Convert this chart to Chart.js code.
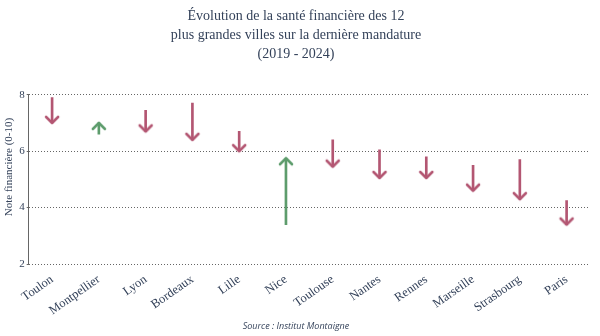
<!DOCTYPE html>
<html>
<head>
<meta charset="utf-8">
<script src="https://cdn.jsdelivr.net/npm/chart.js@4.4.1/dist/chart.umd.min.js"></script>
<style>
  body { margin: 0; background: #fff; }
  #wrap { width: 600px; height: 336px; }
</style>
</head>
<body>
<div id="wrap"><canvas id="arrowChart"></canvas></div>
<script>
// data: note at start (2019) and end (2024) of mandate
const cities = ['Toulon', 'Montpellier', 'Lyon', 'Bordeaux', 'Lille', 'Nice',
    'Toulouse', 'Nantes', 'Rennes', 'Marseille', 'Strasbourg', 'Paris'];
const note2019 = [7.9, 6.6, 7.45, 7.7, 6.7, 3.4, 6.4, 6.05, 5.8, 5.5, 5.7, 4.25];
const note2024 = [7.0, 7.0, 6.7, 6.4, 6.0, 5.75, 5.45, 5.05, 5.05, 4.6, 4.3, 3.4];
const yTicks = [2, 4, 6, 8];

const RED = '#b35672';
const GREEN = '#5d9c6c';
const TEXT = '#34425a';
const SERIF = 'Liberation Serif';

// arrow head drawn as a little canvas, tip at centre
function makeHead(color, up) {
    const c = document.createElement('canvas');
    c.width = 18; c.height = 18;
    const g = c.getContext('2d');
    g.strokeStyle = color;
    g.lineWidth = 2.6;
    g.lineCap = 'round';
    g.lineJoin = 'round';
    g.beginPath();
    if (up) {
        g.moveTo(3, 15); g.lineTo(9, 9); g.lineTo(15, 15);
    } else {
        g.moveTo(3, 3); g.lineTo(9, 9); g.lineTo(15, 3);
    }
    g.stroke();
    return c;
}
const headDown = makeHead(RED, false);
const headUp = makeHead(GREEN, true);

const isUp = note2024.map((v, i) => v > note2019[i]);
const colors = isUp.map(u => u ? GREEN : RED);

const ctx = document.getElementById('arrowChart').getContext('2d');
new Chart(ctx, {
    type: 'bar',
    data: {
        labels: cities,
        datasets: [{
            // arrow shafts
            data: cities.map((c, i) => [note2019[i], note2024[i]]),
            backgroundColor: colors,
            borderWidth: 0,
            barThickness: 2,
            grouped: false,
            order: 2
        }, {
            // arrow heads
            type: 'line',
            data: note2024,
            showLine: false,
            pointStyle: isUp.map(u => u ? headUp : headDown),
            pointRadius: 9,
            order: 1
        }]
    },
    options: {
        responsive: true,
        maintainAspectRatio: false,
        animation: false,
        layout: { padding: { left: 2, right: 10, top: 0, bottom: 0 } },
        plugins: {
            legend: { display: false },
            tooltip: { enabled: false },
            title: {
                display: true,
                text: ['Évolution de la santé financière des 12',
                       'plus grandes villes sur la dernière mandature',
                       '(2019 - 2024)'],
                color: TEXT,
                font: { family: SERIF, size: 14, weight: 'normal', lineHeight: 1.35 },
                padding: { top: 7, bottom: 31 }
            },
            subtitle: {
                display: true,
                position: 'bottom',
                text: 'Source : Institut Montaigne',
                color: TEXT,
                font: { family: 'Open Sans', size: 9, style: 'italic' },
                padding: { top: 3, bottom: 4 }
            }
        },
        scales: {
            x: {
                grid: { display: false },
                border: { display: false },
                ticks: {
                    color: TEXT,
                    font: { family: SERIF, size: 12.5 },
                    minRotation: 35,
                    maxRotation: 35,
                    padding: 0
                }
            },
            y: {
                min: 2,
                max: 8,
                afterBuildTicks: axis => { axis.ticks = yTicks.map(v => ({ value: v })); },
                grid: { color: '#666', lineWidth: 1, tickLength: 2, borderDash: [1, 2] },
                border: { display: true, color: '#666', dash: [1, 2] },
                title: {
                    display: true,
                    // leading spaces nudge the text up a bit, as in the original
                    text: '         Note financière (0-10)',
                    color: TEXT,
                    font: { family: SERIF, size: 11 },
                    padding: 1
                },
                ticks: {
                    color: TEXT,
                    font: { family: SERIF, size: 11 },
                    padding: 2
                }
            }
        }
    }
});
</script>
</body>
</html>
